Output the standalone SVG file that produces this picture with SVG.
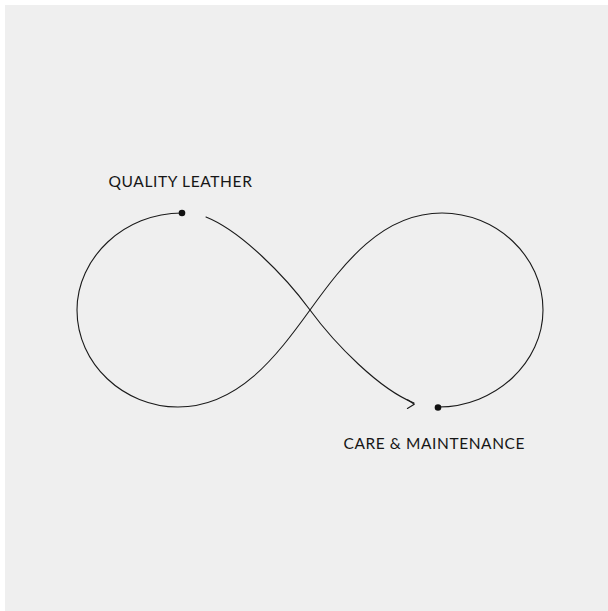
<svg xmlns="http://www.w3.org/2000/svg" width="608" height="611" viewBox="0 0 608 611">
<style>
.bg{fill:#ffffff}
.panel{fill:#efefef}
.line{fill:none;stroke:#1a1a1a;stroke-width:1.1;stroke-linecap:round;stroke-linejoin:round}
.dot{fill:#111111}
.lbl{font-family:"Lato","Open Sans","Liberation Sans",sans-serif;font-size:15.5px;fill:#161616;letter-spacing:0.6px}
</style>
<rect class="bg" x="0" y="0" width="608" height="611"/>
<rect class="panel" x="5" y="5" width="603" height="606"/>
<g id="connectors">
<path class="line" d="M182,213 C124,213 77,258 77,310 C77,364 124,407 178,407 C238,407 276,357 310,310 C344,263 382,213 442,213 C496,213 543,256 543,310 C543,362 496,407 438,407"/>
<path class="line" d="M206,217 C241,231 285,276 310,310 C335,344 379,389 414,403"/>
<path class="line" d="M407.6,399.8 L414.3,404.2 L407.4,408.5"/>
</g>
<g id="node-quality-leather">
<circle class="dot" cx="182" cy="213" r="3.3"/>
<text class="lbl" x="108.5" y="186.7" textLength="144" lengthAdjust="spacingAndGlyphs">QUALITY LEATHER</text>
</g>
<g id="node-care-maintenance">
<circle class="dot" cx="438" cy="407.5" r="3.3"/>
<text class="lbl" x="343.5" y="449" textLength="181.5" lengthAdjust="spacingAndGlyphs">CARE &amp; MAINTENANCE</text>
</g>
</svg>
